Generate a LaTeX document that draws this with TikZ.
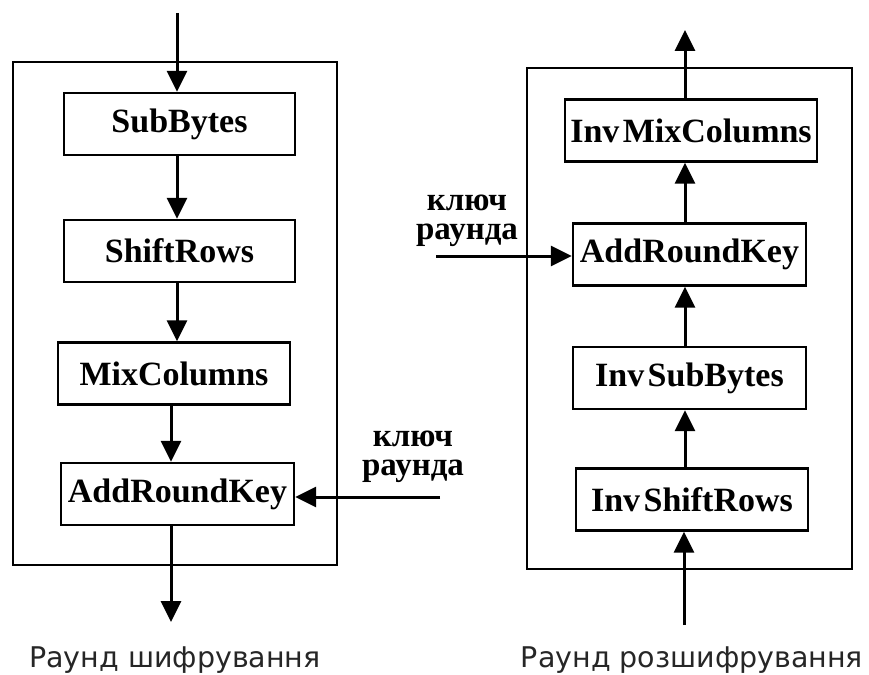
\documentclass[tikz,border=0pt]{standalone}
\usepackage{fontspec}
\setmainfont{Liberation Serif}
\newfontfamily\capfont{DejaVu Sans}
\usetikzlibrary{arrows.meta}
\tikzset{
  stage/.style={draw, line width=2.4pt, inner sep=0pt, minimum height=62pt,
    font=\bfseries\fontsize{34}{36}\selectfont},
  frame/.style={draw, line width=2.2pt},
  flow/.style={line width=3pt, -{Triangle[width=20pt,length=21pt]}},
  keylabel/.style={align=center, font=\bfseries\fontsize{33}{29}\selectfont, inner sep=0pt},
  caption/.style={font=\capfont\fontsize{28.5}{30}\selectfont, text=black!85, inner sep=0pt}
}
\begin{document}
\begin{tikzpicture}[x=1pt,y=-1pt]
\useasboundingbox (0,0) rectangle (869,674);
% left: encryption round
\draw[frame] (13,62) rectangle (337,565);
\node[stage, minimum width=231pt] (sub) at (179.5,124) {SubBytes};
\node[stage, minimum width=231pt] (shift) at (179.5,251) {ShiftRows};
\node[stage, minimum width=232pt] (mix) at (174,373.5) {MixColumns};
\node[stage, minimum width=233pt] (ark) at (177.5,494) {AddRoundKey};
\coordinate (ltop) at (177,13);
\coordinate (lbot) at (171,622);
\coordinate (lkey) at (440,497);
\draw[flow] (ltop) -- (ltop |- sub.north);
\draw[flow] (sub.south -| ltop) -- (shift.north -| ltop);
\draw[flow] (shift.south -| ltop) -- (mix.north -| ltop);
\draw[flow] (mix.south -| lbot) -- (ark.north -| lbot);
\draw[flow] (ark.south -| lbot) -- (lbot);
\draw[flow] (lkey) -- (lkey -| ark.east);
\node[keylabel] (lkl) at (413,457) {ключ\\раунда};
\node[caption] (lcap) at (175,660) {Раунд шифрування};
% right: decryption round
\draw[frame] (527,68) rectangle (852,569);
\node[stage, minimum width=252pt] (imix) at (691,130.5) {Inv\hspace{0.1em}MixColumns};
\node[stage, minimum width=233pt] (rark) at (689.5,254.5) {AddRoundKey};
\node[stage, minimum width=233pt] (isub) at (689.5,378) {Inv\hspace{0.1em}SubBytes};
\node[stage, minimum width=232pt] (ishift) at (692,499.5) {Inv\hspace{0.1em}ShiftRows};
\coordinate (rtop) at (685,30);
\coordinate (rbot) at (684,625);
\coordinate (rkey) at (436,256);
\draw[flow] (rbot) -- (rbot |- ishift.south);
\draw[flow] (ishift.north -| rtop) -- (isub.south -| rtop);
\draw[flow] (isub.north -| rtop) -- (rark.south -| rtop);
\draw[flow] (rark.north -| rtop) -- (imix.south -| rtop);
\draw[flow] (imix.north -| rtop) -- (rtop);
\draw[flow] (rkey) -- (rkey -| rark.west);
\node[keylabel] (rkl) at (467,221) {ключ\\раунда};
\node[caption] (rcap) at (692,660) {Раунд розшифрування};
\end{tikzpicture}
\end{document}
